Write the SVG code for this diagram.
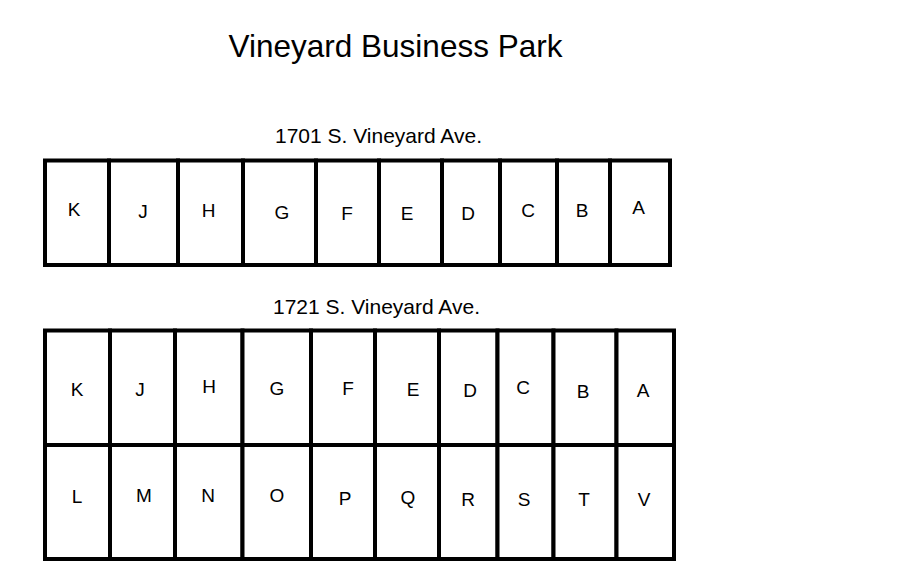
<svg xmlns="http://www.w3.org/2000/svg" width="914" height="588" viewBox="0 0 914 588">
<style>
  .u { fill: #fff; stroke: #000; stroke-width: 4; }
  .l { font-family: "Liberation Sans", Arial, sans-serif; font-size: 19px; fill: #000; text-anchor: middle; }
  .t { font-family: "Liberation Sans", Arial, sans-serif; fill: #000; text-anchor: middle; }
</style>
<rect width="914" height="588" fill="#fff"/>
<g id="title">
  <text class="t" x="395.5" y="57" font-size="31.5">Vineyard Business Park</text>
</g>
<g id="addr1701">
  <text class="t" x="378.5" y="143" font-size="21">1701 S. Vineyard Ave.</text>
</g>
<g id="addr1721">
  <text class="t" x="376.5" y="314" font-size="21">1721 S. Vineyard Ave.</text>
</g>
<g id="b1701">
  <g id="b1-K"><rect class="u" x="45" y="160.5" width="64" height="104.5"/><text class="l" x="74" y="216">K</text></g>
  <g id="b1-J"><rect class="u" x="109" y="160.5" width="69" height="104.5"/><text class="l" x="143" y="218">J</text></g>
  <g id="b1-H"><rect class="u" x="178" y="160.5" width="65" height="104.5"/><text class="l" x="208.5" y="216.7">H</text></g>
  <g id="b1-G"><rect class="u" x="243" y="160.5" width="73" height="104.5"/><text class="l" x="282" y="218.7">G</text></g>
  <g id="b1-F"><rect class="u" x="316" y="160.5" width="63" height="104.5"/><text class="l" x="347" y="220">F</text></g>
  <g id="b1-E"><rect class="u" x="379" y="160.5" width="63" height="104.5"/><text class="l" x="407" y="220">E</text></g>
  <g id="b1-D"><rect class="u" x="442" y="160.5" width="58" height="104.5"/><text class="l" x="468" y="220">D</text></g>
  <g id="b1-C"><rect class="u" x="500" y="160.5" width="57" height="104.5"/><text class="l" x="528" y="216.5">C</text></g>
  <g id="b1-B"><rect class="u" x="557" y="160.5" width="53" height="104.5"/><text class="l" x="582" y="217">B</text></g>
  <g id="b1-A"><rect class="u" x="610" y="160.5" width="60" height="104.5"/><text class="l" x="638.5" y="214">A</text></g>
</g>
<g id="b1721">
  <g id="b2-K"><rect class="u" x="45" y="330.5" width="65" height="114.5"/><text class="l" x="77" y="396">K</text></g>
  <g id="b2-J"><rect class="u" x="110" y="330.5" width="65" height="114.5"/><text class="l" x="140" y="396">J</text></g>
  <g id="b2-H"><rect class="u" x="175" y="330.5" width="67.5" height="114.5"/><text class="l" x="209" y="393">H</text></g>
  <g id="b2-G"><rect class="u" x="242.5" y="330.5" width="68.5" height="114.5"/><text class="l" x="277" y="395">G</text></g>
  <g id="b2-F"><rect class="u" x="311" y="330.5" width="64" height="114.5"/><text class="l" x="348" y="395">F</text></g>
  <g id="b2-E"><rect class="u" x="375" y="330.5" width="64" height="114.5"/><text class="l" x="413" y="396">E</text></g>
  <g id="b2-D"><rect class="u" x="439" y="330.5" width="58.5" height="114.5"/><text class="l" x="470" y="397">D</text></g>
  <g id="b2-C"><rect class="u" x="497.5" y="330.5" width="56" height="114.5"/><text class="l" x="523" y="394">C</text></g>
  <g id="b2-B"><rect class="u" x="553.5" y="330.5" width="63" height="114.5"/><text class="l" x="583" y="398">B</text></g>
  <g id="b2-A"><rect class="u" x="616.5" y="330.5" width="57.5" height="114.5"/><text class="l" x="643" y="397">A</text></g>
  <g id="b2-L"><rect class="u" x="45" y="445" width="65" height="114"/><text class="l" x="77" y="503">L</text></g>
  <g id="b2-M"><rect class="u" x="110" y="445" width="65" height="114"/><text class="l" x="144" y="502">M</text></g>
  <g id="b2-N"><rect class="u" x="175" y="445" width="67.5" height="114"/><text class="l" x="208" y="502">N</text></g>
  <g id="b2-O"><rect class="u" x="242.5" y="445" width="68.5" height="114"/><text class="l" x="277" y="502">O</text></g>
  <g id="b2-P"><rect class="u" x="311" y="445" width="64" height="114"/><text class="l" x="345" y="505">P</text></g>
  <g id="b2-Q"><rect class="u" x="375" y="445" width="64" height="114"/><text class="l" x="408" y="504">Q</text></g>
  <g id="b2-R"><rect class="u" x="439" y="445" width="58.5" height="114"/><text class="l" x="468" y="506">R</text></g>
  <g id="b2-S"><rect class="u" x="497.5" y="445" width="56" height="114"/><text class="l" x="524" y="506">S</text></g>
  <g id="b2-T"><rect class="u" x="553.5" y="445" width="63" height="114"/><text class="l" x="584" y="506">T</text></g>
  <g id="b2-V"><rect class="u" x="616.5" y="445" width="57.5" height="114"/><text class="l" x="644" y="506">V</text></g>
</g>
<g id="connectors"/>
</svg>
